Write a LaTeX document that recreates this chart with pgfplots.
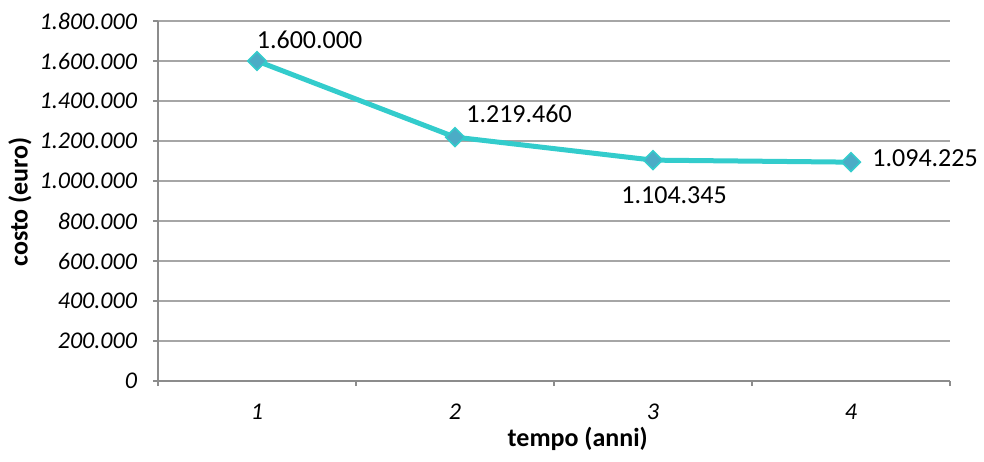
\documentclass[border=0pt]{standalone}
\usepackage{fontspec}
\setmainfont{Carlito}
\usepackage{pgfplots}
\pgfplotsset{compat=1.18}

\definecolor{linea}{HTML}{33CCCC}
\definecolor{marca}{HTML}{4BACC6}
\definecolor{griglia}{HTML}{A6A6A6}
\definecolor{assi}{HTML}{8C8C8C}

\begin{document}
\begin{tikzpicture}
  \begin{axis}[
      scale only axis,
      width=396pt,
      height=180pt,
      xmin=0.5, xmax=4.5,
      ymin=0, ymax=1800000,
      axis lines=left,
      axis line style={-, draw=assi, line width=0.6pt},
      tick align=outside,
      major tick length=2.5pt,
      tick style={draw=assi, line width=0.6pt},
      xtick={0.5,1.5,2.5,3.5,4.5},
      xticklabels={},
      extra x ticks={1,2,3,4},
      extra x tick labels={1,2,3,4},
      extra x tick style={major tick length=0pt, grid=none,
        xticklabel style={yshift=-8pt}},
      ytick={0,200000,400000,600000,800000,1000000,1200000,1400000,1600000,1800000},
      yticklabels={0,200.000,400.000,600.000,800.000,1.000.000,1.200.000,1.400.000,1.600.000,1.800.000},
      scaled y ticks=false,
      yticklabel style={font=\fontsize{12}{14}\selectfont\itshape, xshift=-4.5pt},
      xticklabel style={font=\fontsize{12}{14}\selectfont\itshape},
      ymajorgrids,
      grid style={draw=griglia, line width=0.6pt},
      xlabel={tempo (anni)},
      ylabel={costo (euro)},
      xlabel style={font=\fontsize{13}{15}\selectfont\bfseries, anchor=center,
        at={([yshift=-29pt]axis description cs:0.530,0)}},
      ylabel style={font=\fontsize{13}{15}\selectfont\bfseries, anchor=center,
        at={([xshift=-69pt]axis description cs:0,0.497)}},
      clip=false,
    ]
    \addplot[color=linea, line width=2.5pt,
      mark=square*, mark size=3.3pt,
      mark options={rotate=45, fill=marca, draw=linea, line width=0.8pt}]
      coordinates {(1,1600000) (2,1219460) (3,1104345) (4,1094225)};

    \begin{scope}[every node/.style={font=\fontsize{13}{15}\selectfont, inner sep=0pt, anchor=west}]
      \node[xshift=-0.25pt, yshift=10.5pt] at (axis cs:1,1600000) {1.600.000};
      \node[xshift=5.5pt, yshift=11.5pt] at (axis cs:2,1219460) {1.219.460};
      \node[xshift=-16pt, yshift=-17.5pt] at (axis cs:3,1104345) {1.104.345};
      \node[xshift=10.5pt, yshift=2pt] at (axis cs:4,1094225) {1.094.225};
    \end{scope}

    \coordinate (bl) at (rel axis cs:0,0);
    \coordinate (tr) at (rel axis cs:1,1);
  \end{axis}
  \pgfresetboundingbox
  \path[use as bounding box] ([xshift=-79pt, yshift=-40pt]bl) rectangle ([xshift=17pt, yshift=10.5pt]tr);
\end{tikzpicture}
\end{document}
